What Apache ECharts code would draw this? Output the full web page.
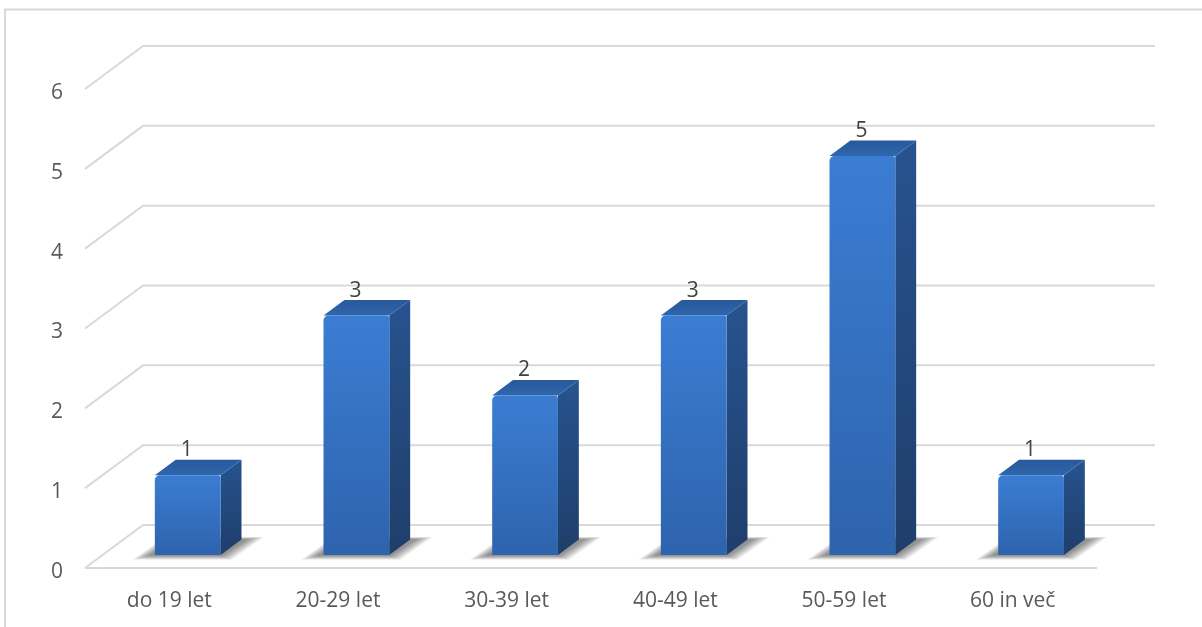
<!DOCTYPE html>
<html>
<head>
<meta charset="utf-8">
<script src="https://cdn.jsdelivr.net/npm/echarts@6/dist/echarts.min.js"></script>
<style>
  html, body { margin: 0; padding: 0; background: #ffffff; }
  #chart { width: 1202px; height: 627px; }
</style>
</head>
<body>
<div id="chart"></div>
<script>
// Age groups and number of people in each
const categories = ['do 19 let', '20-29 let', '30-39 let', '40-49 let', '50-59 let', '60 in več'];
const counts = [1, 3, 2, 3, 5, 1];
const yTicks = [0, 1, 2, 3, 4, 5, 6];

// Oblique projection of the back wall relative to the front plane
const DEPTH_X = 58;
const DEPTH_Y = -43;
const BAR_FRONT = 0.30;   // depth position of the bar's front face (fraction of floor depth)
const BAR_DEPTH = 0.36;   // depth of the bar (fraction of floor depth)
const BAR_WIDTH = 0.39;   // bar width as a fraction of the category band
const SHADOW_LAYERS = 7;  // stacked translucent footprints that fake a soft floor shadow

const GRID_COLOR = '#d9d9d9';
const FONT = '"Open Sans", "Noto Sans", sans-serif';

const chart = echarts.init(document.getElementById('chart'), null, { renderer: 'canvas' });

function renderGridLine(params, api) {
  const cs = params.coordSys;
  const v = api.value(1);
  const y = api.coord([0, v])[1];
  const x0 = cs.x;
  const x1 = cs.x + cs.width;
  const style = { stroke: GRID_COLOR, lineWidth: 2, fill: null };
  const children = [{
    type: 'polyline',
    shape: { points: [[x0, y], [x0 + DEPTH_X, y + DEPTH_Y], [x1 + DEPTH_X, y + DEPTH_Y]] },
    style: style,
    silent: true
  }];
  if (v === 0) {
    children.push({
      type: 'line',
      shape: { x1: x0, y1: y, x2: x1, y2: y },
      style: style,
      silent: true
    });
  }
  return { type: 'group', children: children };
}

function renderBar(params, api) {
  const idx = api.value(0);
  const val = api.value(1);
  const base = api.coord([idx, 0]);
  const top = api.coord([idx, val]);
  const band = api.size([1, 0])[0];
  const w = band * BAR_WIDTH;
  const fx = DEPTH_X * BAR_FRONT, fy = DEPTH_Y * BAR_FRONT;
  const dx = DEPTH_X * BAR_DEPTH, dy = DEPTH_Y * BAR_DEPTH;
  const left = base[0] - w / 2 + fx + 1;
  const right = left + w;
  const bottomY = base[1] + fy;
  const topY = top[1] + fy;

  const children = [];

  // soft shadow on the floor: growing, fading footprints
  for (let k = SHADOW_LAYERS; k >= 1; k--) {
    const e = k * 2.6;
    children.push({
      type: 'polygon',
      shape: { points: [
        [left - 4 - e, bottomY + e * 0.25],
        [right + e * 0.6, bottomY + e * 0.25],
        [right + dx + 4 + e, bottomY + dy - e * 0.15],
        [left + dx - e * 0.6, bottomY + dy - e * 0.15]
      ] },
      style: { fill: 'rgba(0,0,0,0.075)' },
      silent: true
    });
  }

  children.push(
    // right side face
    {
      type: 'polygon',
      shape: { points: [[right, topY], [right + dx, topY + dy], [right + dx, bottomY + dy], [right, bottomY]] },
      style: {
        fill: new echarts.graphic.LinearGradient(0, 0, 0, 1, [
          { offset: 0, color: '#27538f' },
          { offset: 1, color: '#1f3e6b' }
        ])
      },
      silent: true
    },
    // top face
    {
      type: 'polygon',
      shape: { points: [[left, topY], [left + dx, topY + dy], [right + dx, topY + dy], [right, topY]] },
      style: {
        fill: new echarts.graphic.LinearGradient(0, 1, 0, 0, [
          { offset: 0, color: '#2f66ad' },
          { offset: 1, color: '#28599a' }
        ])
      },
      silent: true
    },
    // front face
    {
      type: 'rect',
      shape: { x: left, y: topY, width: w, height: bottomY - topY, r: [5, 3, 0, 0] },
      style: {
        fill: new echarts.graphic.LinearGradient(0, 0, 0, 1, [
          { offset: 0, color: '#3b7dd3' },
          { offset: 1, color: '#2e63ad' }
        ])
      },
      silent: true
    },
    // value label above the bar
    {
      type: 'text',
      x: left + w / 2 - 1,
      y: topY + dy + 1,
      style: {
        text: String(val),
        font: '21px ' + FONT,
        fill: '#404040',
        align: 'center',
        verticalAlign: 'bottom'
      },
      silent: true
    }
  );

  return { type: 'group', children: children };
}

chart.setOption({
  animation: false,
  backgroundColor: '#ffffff',
  graphic: [{
    type: 'rect',
    shape: { x: 5, y: 9.5, width: 1260, height: 700 },
    style: { fill: null, stroke: GRID_COLOR, lineWidth: 2 },
    silent: true,
    z: -10
  }],
  grid: { left: 85, right: 105, top: 89, bottom: 59, containLabel: false },
  xAxis: {
    type: 'category',
    data: categories,
    axisLine: { show: false },
    axisTick: { show: false },
    splitLine: { show: false },
    axisLabel: { color: '#595959', fontFamily: FONT, fontSize: 21, margin: 23 }
  },
  yAxis: {
    type: 'value',
    min: 0,
    max: 6,
    interval: 1,
    axisLine: { show: false },
    axisTick: { show: false },
    splitLine: { show: false },
    axisLabel: {
      color: '#595959', fontFamily: FONT, fontSize: 21, margin: 22,
      verticalAlign: 'top', lineHeight: 8,
      formatter: v => yTicks.indexOf(v) >= 0 ? String(v) : ''
    }
  },
  series: [
    {
      type: 'custom',
      name: 'mreža',
      renderItem: renderGridLine,
      data: yTicks.map(v => [0, v]),
      z: 1,
      silent: true
    },
    {
      type: 'custom',
      name: 'Število',
      renderItem: renderBar,
      data: counts.map((v, i) => [i, v]),
      z: 5
    }
  ]
});
</script>
</body>
</html>
